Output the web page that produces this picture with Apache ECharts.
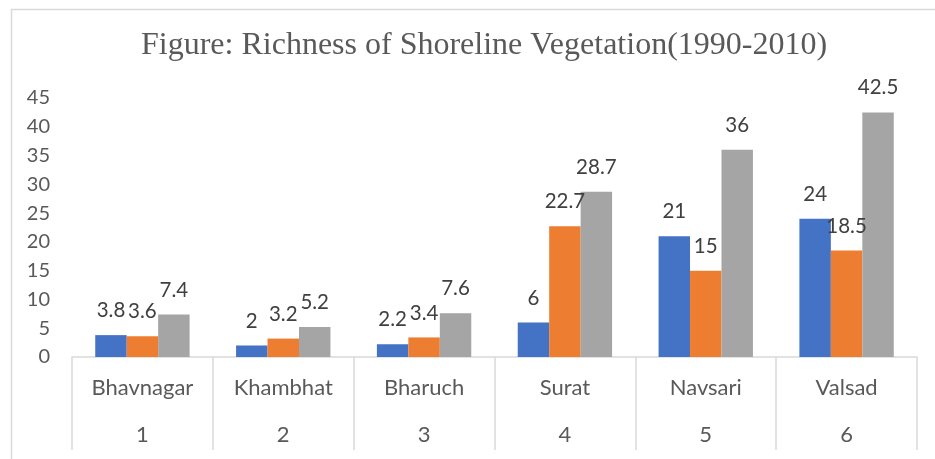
<!DOCTYPE html>
<html>
<head>
<meta charset="utf-8">
<script src="https://cdn.jsdelivr.net/npm/echarts@6/dist/echarts.min.js"></script>
<style>html,body{margin:0;padding:0;background:#fff}#c{width:935px;height:459px}</style>
</head>
<body>
<div id="c"></div>
<script>
const titleText = 'Figure: Richness of Shoreline Vegetation(1990-2010)';
const districts = ['Bhavnagar', 'Khambhat', 'Bharuch', 'Surat', 'Navsari', 'Valsad'];
const districtNumbers = ['1', '2', '3', '4', '5', '6'];
const series1 = [3.8, 2, 2.2, 6, 21, 24];
const series2 = [3.6, 3.2, 3.4, 22.7, 15, 18.5];
const series3 = [7.4, 5.2, 7.6, 28.7, 36, 42.5];
const yTicks = { min: 0, max: 45, interval: 5 };

const font = 'Lato, "Noto Sans", sans-serif';
const colors = ['#4472C4', '#ED7D31', '#A5A5A5'];
const chart = echarts.init(document.getElementById('c'), null, { renderer: 'canvas' });

function bar(name, data, color) {
  return {
    name: name, type: 'bar', data: data, xAxisIndex: 0,
    barGap: '0%', barCategoryGap: '33%',
    itemStyle: { color: color },
    label: { show: true, position: 'top', distance: 14, color: '#404040', fontSize: 20.5, fontFamily: font }
  };
}

chart.setOption({
  animation: false,
  backgroundColor: '#fff',
  title: {
    text: titleText, left: 136, top: 25,
    textStyle: { fontFamily: '"Liberation Serif", "Times New Roman", serif', fontWeight: 'normal', fontSize: 32, color: '#595959' }
  },
  graphic: [{
    type: 'rect', left: 9, top: 7, silent: true,
    shape: { width: 940, height: 470 },
    style: { fill: 'none', stroke: '#d9d9d9', lineWidth: 1.5 }
  }],
  grid: { left: 72, right: 18, top: 98, bottom: 102 },
  xAxis: [{
    type: 'category', data: districts, position: 'bottom',
    axisLine: { lineStyle: { color: '#d9d9d9', width: 1.5 } },
    axisTick: { show: true, interval: 0, length: 93, lineStyle: { color: '#d9d9d9', width: 1.5 } },
    axisLabel: { interval: 0, margin: 20, color: '#595959', fontSize: 22, fontFamily: font }
  }, {
    type: 'category', data: districtNumbers, position: 'bottom', offset: 47,
    axisLine: { show: false }, axisTick: { show: false },
    axisLabel: { interval: 0, margin: 20, color: '#595959', fontSize: 22, fontFamily: font }
  }],
  yAxis: {
    type: 'value', min: yTicks.min, max: yTicks.max, interval: yTicks.interval,
    splitLine: { show: false }, axisLine: { show: false }, axisTick: { show: false },
    axisLabel: { margin: 22, color: '#595959', fontSize: 20, fontFamily: font }
  },
  series: [
    bar('Series1', series1, colors[0]),
    bar('Series2', series2, colors[1]),
    bar('Series3', series3, colors[2])
  ]
});
</script>
</body>
</html>
